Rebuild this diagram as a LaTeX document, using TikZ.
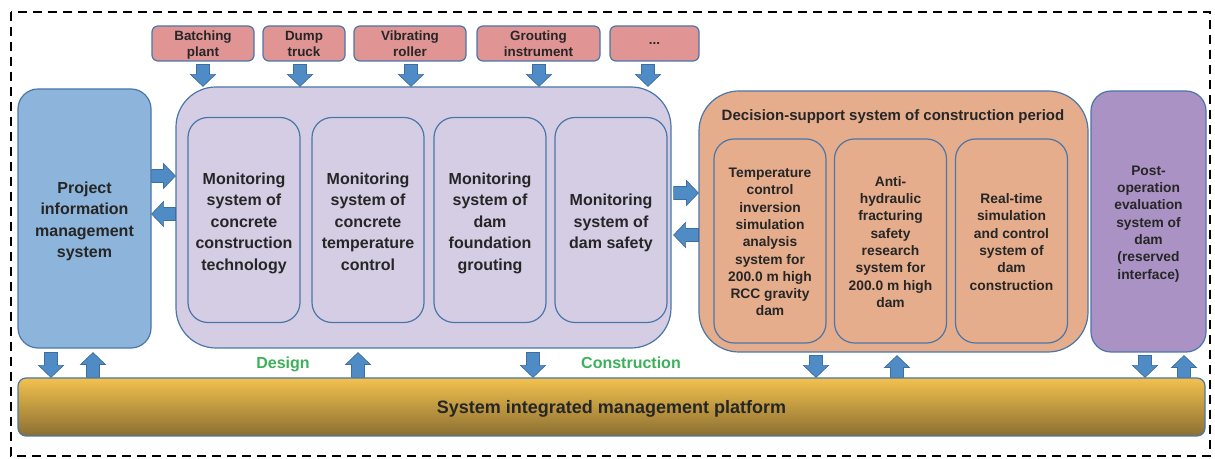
\documentclass[tikz,border=0pt]{standalone}
\usepackage{fontspec}
\setmainfont{Liberation Sans}
\usetikzlibrary{calc}

\definecolor{edge}{HTML}{4A76A8}
\definecolor{ink}{HTML}{262626}
\definecolor{sensorfill}{HTML}{E09494}
\definecolor{infofill}{HTML}{8DB4DA}
\definecolor{monfill}{HTML}{D4CDE4}
\definecolor{decfill}{HTML}{E5AD8C}
\definecolor{postfill}{HTML}{AA92C5}
\definecolor{arrowfill}{HTML}{4F8CC6}
\definecolor{arrowedge}{HTML}{3F6E9E}
\definecolor{platetop}{HTML}{F2C14F}
\definecolor{platemid}{HTML}{D8A94B}
\definecolor{platebot}{HTML}{8B6F32}
\definecolor{phase}{HTML}{3CB05A}

% fixed line boxes for the first and last line of a text block
\newcommand\bTop{\rule{0pt}{9pt}}
\newcommand\bBot{\rule[-1.75pt]{0pt}{1.75pt}}
\newcommand\sTop{\rule{0pt}{7.3pt}}
\newcommand\sBot{\rule[-1.5pt]{0pt}{1.5pt}}
\newcommand\rTop{\rule{0pt}{6.4pt}}
\newcommand\rBot{\rule[-1.6pt]{0pt}{1.6pt}}

% block arrow from the first point to the second one
\newcommand\shafthalf{3.25pt}
\newcommand\headhalf{6.25pt}
\newcommand\headlen{6pt}
\newcommand\blockarrow[2]{%
  \coordinate (ba-s) at (#1);
  \coordinate (ba-e) at (#2);
  \coordinate (ba-h) at ($(ba-e)!\headlen!(ba-s)$);
  \draw[blockarr]
    ($(ba-s)!\shafthalf!90:(ba-e)$) --
    ($(ba-h)!\shafthalf!90:(ba-e)$) --
    ($(ba-h)!\headhalf!90:(ba-e)$) --
    (ba-e) --
    ($(ba-h)!\headhalf!-90:(ba-e)$) --
    ($(ba-h)!\shafthalf!-90:(ba-e)$) --
    ($(ba-s)!\shafthalf!-90:(ba-e)$) -- cycle;
}

\begin{document}
\begin{tikzpicture}[x=0.5pt,y=-0.5pt,
  box/.style={draw=edge, line width=0.6pt, align=center, inner sep=0pt, text=ink},
  bigtext/.style={font=\fontsize{8pt}{10.75pt}\selectfont\bfseries},
  smalltext/.style={font=\fontsize{6.9pt}{8.65pt}\selectfont\bfseries},
  sensor/.style={box, fill=sensorfill, rounded corners=3pt, minimum height=17.5pt,
    font=\fontsize{6.7pt}{8.1pt}\selectfont\bfseries},
  monitor/.style={box, fill=monfill, rounded corners=10pt, minimum width=56pt,
    minimum height=102.5pt, bigtext},
  decision/.style={box, fill=decfill, rounded corners=10pt, minimum width=56pt,
    minimum height=102pt, smalltext},
  blockarr/.style={fill=arrowfill, draw=arrowedge, line width=0.35pt, line join=miter},
  phaselabel/.style={text=phase, anchor=base, font=\fontsize{8pt}{10pt}\selectfont\bfseries},
  frame/.style={draw=black, line width=0.9pt, dash pattern=on 4.5pt off 3pt}]

\useasboundingbox (0,0) rectangle (1215,459);

% outer dashed frame
\draw[frame] (11,12) rectangle (1210,456);

% equipment feeding the monitoring systems
\node[sensor, minimum width=51pt]   (r1) at (203,43.5)   {\rTop Batching\\plant\rBot};
\node[sensor, minimum width=41pt]   (r2) at (304,43.5)   {\rTop Dump\\truck\rBot};
\node[sensor, minimum width=56pt]   (r3) at (410,43.5)   {\rTop Vibrating\\roller\rBot};
\node[sensor, minimum width=61.5pt] (r4) at (538.5,43.5) {\rTop Grouting\\instrument\rBot};
\node[sensor, minimum width=44.5pt] (r5) at (654.5,43.5) {...};

% project information management
\node[box, bigtext, fill=infofill, rounded corners=10pt, minimum width=66.5pt,
  minimum height=129.5pt] (pim) at (84.5,218.5)
  {\bTop Project\\information\\management\\system\bBot};

% monitoring systems
\node[box, fill=monfill, rounded corners=20pt, minimum width=247.5pt,
  minimum height=130.5pt] (mon) at (423.5,217.5) {};
\node[monitor] (m1) at (244,220) {\bTop Monitoring\\system of\\concrete\\construction\\technology\bBot};
\node[monitor] (m2) at (368,220) {\bTop Monitoring\\system of\\concrete\\temperature\\control\bBot};
\node[monitor] (m3) at (490,220) {\bTop Monitoring\\system of\\dam\\foundation\\grouting\bBot};
\node[monitor] (m4) at (611,220) {\bTop Monitoring\\system of\\dam safety\bBot};

% decision support
\node[box, fill=decfill, rounded corners=20pt, minimum width=194.5pt,
  minimum height=130.5pt] (dec) at (893.5,221.5) {};
\node[text=ink, anchor=base, font=\fontsize{7.5pt}{9pt}\selectfont\bfseries] (dtitle)
  at (893,120.5) {Decision-support system of construction period};
\node[decision] (d1) at (770,241)
  {\sTop Temperature\\control\\inversion\\simulation\\analysis\\system for\\200.0 m high\\RCC gravity\\dam\sBot};
\node[decision] (d2) at (890.5,241)
  {\sTop Anti-\\hydraulic\\fracturing\\safety\\research\\system for\\200.0 m high\\dam\sBot};
\node[decision] (d3) at (1011.5,241)
  {\sTop Real-time\\simulation\\and control\\system of\\dam\\construction\sBot};

% post-operation evaluation
\node[box, smalltext, fill=postfill, rounded corners=10pt, minimum width=57.5pt,
  minimum height=130.5pt] (post) at (1148.5,221.5)
  {\sTop Post-\\operation\\evaluation\\system of\\dam\\(reserved\\interface)\sBot};

% integrated platform
\node[box, top color=platetop, middle color=platemid, bottom color=platebot,
  rounded corners=4pt, minimum width=593.5pt, minimum height=29pt,
  text height=8.9pt, text depth=1.9pt,
  font=\fontsize{9pt}{10pt}\selectfont\bfseries] (plat) at (611.5,407)
  {System integrated management platform};

% phase labels
\node[phaselabel] (design) at (283,369) {Design};
\node[phaselabel] (constr) at (631,369) {Construction};

% column and row guides for the block arrows
\foreach \n/\x in {t1/203, t2/300, t3/411, t4/539, t5/648,
                   b1/51, b2/93, b3/358, b4/533, b5/816, b6/897, b7/1145, b8/1184}
  \coordinate (\n) at (\x,0);
\foreach \n/\y in {ya/176, yb/214, yc/193, yd/235}
  \coordinate (\n) at (0,\y);

% equipment data into monitoring
\blockarrow{$(r1.south -| t1)+(0,3)$}{mon.north -| t1}
\blockarrow{$(r2.south -| t2)+(0,3)$}{mon.north -| t2}
\blockarrow{$(r3.south -| t3)+(0,3)$}{mon.north -| t3}
\blockarrow{$(r4.south -| t4)+(0,3)$}{mon.north -| t4}
\blockarrow{$(r5.south -| t5)+(0,3)$}{mon.north -| t5}

% horizontal exchanges
\blockarrow{pim.east |- ya}{mon.west |- ya}
\blockarrow{mon.west |- yb}{pim.east |- yb}
\blockarrow{$(mon.east |- yc)+(2,0)$}{dec.west |- yc}
\blockarrow{dec.west |- yd}{$(mon.east |- yd)+(2,0)$}

% exchanges with the platform
\blockarrow{$(pim.south -| b1)+(0,4)$}{plat.north -| b1}
\blockarrow{plat.north -| b2}{$(pim.south -| b2)+(0,4)$}
\blockarrow{plat.north -| b3}{$(mon.south -| b3)+(0,4)$}
\blockarrow{$(mon.south -| b4)+(0,4)$}{plat.north -| b4}
\blockarrow{$(dec.south -| b5)+(0,3)$}{plat.north -| b5}
\blockarrow{plat.north -| b6}{$(dec.south -| b6)+(0,3)$}
\blockarrow{$(post.south -| b7)+(0,3)$}{plat.north -| b7}
\blockarrow{plat.north -| b8}{$(post.south -| b8)+(0,3)$}
\end{tikzpicture}
\end{document}
